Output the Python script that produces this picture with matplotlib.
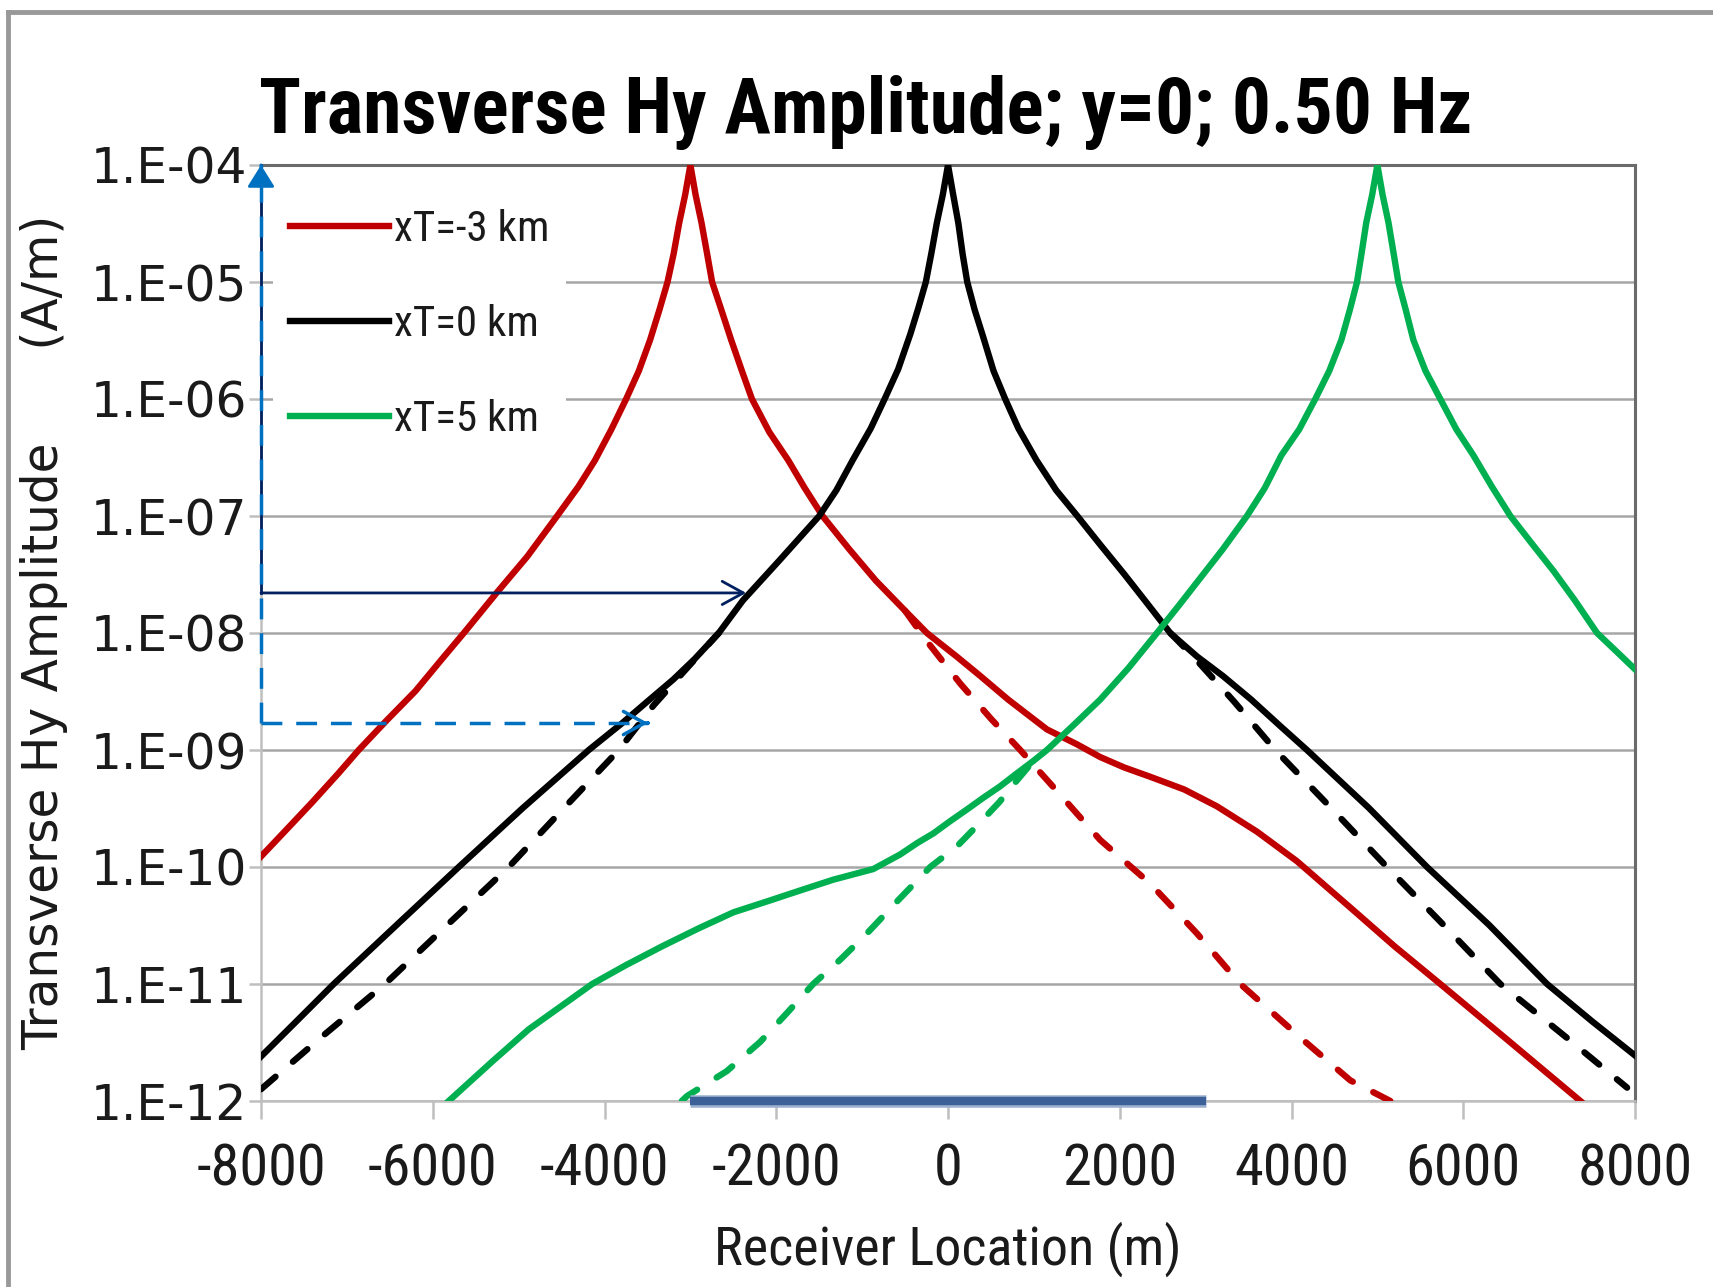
import matplotlib
matplotlib.use("Agg")
import matplotlib.pyplot as plt
from matplotlib import font_manager
from matplotlib.lines import Line2D
from matplotlib.ticker import FixedLocator, NullLocator

# --- fonts: prefer a narrow face, the reference text is condensed -------
names = {f.name for f in font_manager.fontManager.ttflist}
NARROW = 'Liberation Sans'
for cand in ['Liberation Sans Narrow', 'Arial Narrow', 'Roboto Condensed']:
    if cand in names:
        NARROW = cand
        break
is_narrow = NARROW != 'Liberation Sans'

# --- data --------------------------------------------------------------
# xT = -3 km, solid
red_x = [-8000, -7700, -7400, -7100, -6862, -6540, -6200, -5900, -5638, -5257, -4900,
         -4552, -4300, -4110, -3920, -3748, -3600, -3469, -3360, -3266, -3195, -3130,
         -3060, -3000, -2940, -2870, -2805, -2747, -2640, -2525, -2400, -2283, -2080,
         -1861, -1670, -1461, -1150, -840, -500, -246, 100, 375, 700, 1152, 1500, 1773,
         2050, 2356, 2750, 3132, 3600, 4064, 4685, 5200, 5733, 6500, 7364]
red_y = [1.23e-10, 2.1e-10, 3.6e-10, 6.3e-10, 1.0e-9, 1.78e-9, 3.2e-9, 5.9e-9, 1.0e-8,
         2.2e-8, 4.5e-8, 1.0e-7, 1.8e-7, 3.0e-7, 5.5e-7, 1.0e-6, 1.74e-6, 3.2e-6, 5.8e-6,
         1.0e-5, 1.74e-5, 3.2e-5, 5.6e-5, 1.0e-4, 5.6e-5, 3.2e-5, 1.74e-5, 1.0e-5, 5.8e-6,
         3.2e-6, 1.74e-6, 1.0e-6, 5.2e-7, 3.0e-7, 1.74e-7, 1.0e-7, 5.2e-8, 2.8e-8, 1.55e-8,
         1.0e-8, 6.3e-9, 4.3e-9, 2.7e-9, 1.5e-9, 1.12e-9, 8.7e-10, 7.1e-10, 5.9e-10,
         4.6e-10, 3.3e-10, 2.0e-10, 1.12e-10, 4.5e-11, 2.1e-11, 1.0e-11, 3.4e-12, 1.0e-12]
# xT = -3 km, dashed
red_dash_x = [-500, -246, 142, 500, 841, 1300, 1773, 2356, 2900, 3404, 4100, 4685, 5151]
red_dash_y = [1.55e-8, 8.5e-9, 3.7e-9, 1.85e-9, 1.0e-9, 4.2e-10, 1.7e-10, 7.2e-11,
              2.7e-11, 1.0e-11, 3.5e-12, 1.5e-12, 1.0e-12]

# xT = 0 km, solid
blk_x = [-8000, -7600, -7153, -6400, -5697, -4950, -4183, -3793, -3500, -3200, -2950,
         -2669, -2388, -1960, -1500, -1300, -1110, -900, -738, -580, -438, -345, -258,
         -195, -130, -60, 0, 60, 120, 170, 224, 310, 404, 530, 666, 820, 1030, 1260, 1506,
         1780, 2050, 2317, 2588, 2900, 3200, 3530, 3870, 4180, 4900, 5578, 6300, 6976,
         7500, 8000]
blk_y = [2.4e-12, 4.7e-12, 1.0e-11, 3.3e-11, 1.0e-10, 3.2e-10, 1.0e-9, 1.7e-9, 2.6e-9,
         4.0e-9, 6.0e-9, 1.0e-8, 1.9e-8, 4.2e-8, 1.0e-7, 1.66e-7, 3.0e-7, 5.6e-7, 1.0e-6,
         1.8e-6, 3.6e-6, 6.0e-6, 1.0e-5, 1.74e-5, 3.2e-5, 5.6e-5, 1.0e-4, 5.6e-5, 3.2e-5,
         1.74e-5, 1.0e-5, 5.8e-6, 3.5e-6, 1.74e-6, 1.0e-6, 5.6e-7, 3.0e-7, 1.66e-7, 1.0e-7,
         5.6e-8, 3.2e-8, 1.8e-8, 1.0e-8, 6.3e-9, 4.3e-9, 2.7e-9, 1.6e-9, 1.0e-9, 3.2e-10,
         1.0e-10, 3.2e-11, 1.0e-11, 4.8e-12, 2.45e-12]
# xT = 0 km, dashed (two branches)
blk_dash_left_x = [-8000, -7650, -7300, -6556, -5830, -5115, -4470, -3833, -3430, -3030, -2669]
blk_dash_left_y = [1.26e-12, 2.1e-12, 3.5e-12, 1.0e-11, 3.2e-11, 1.0e-10, 3.2e-10, 1.0e-9,
                   2.4e-9, 5.1e-9, 1.0e-8]
blk_dash_right_x = [2588, 2856, 3330, 3811, 4460, 5112, 5770, 6432, 7200, 7908]
blk_dash_right_y = [1.0e-8, 6.3e-9, 2.6e-9, 1.0e-9, 3.2e-10, 1.0e-10, 3.2e-11, 1.0e-11,
                    3.5e-12, 1.3e-12]

# xT = 5 km, solid
grn_x = [-5814, -5300, -4882, -4500, -4144, -3750, -3329, -2900, -2498, -2100, -1722,
         -1334, -871, -557, -360, -169, 20, 220, 410, 608, 800, 997, 1152, 1450, 1773,
         2100, 2433, 2705, 2938, 3200, 3481, 3690, 3882, 4090, 4277, 4440, 4581, 4680,
         4763, 4815, 4870, 4940, 5000, 5060, 5130, 5190, 5244, 5330, 5419, 5560, 5733,
         5920, 6118, 6330, 6549, 6800, 7050, 7300, 7558, 7780, 8000]
grn_y = [1.0e-12, 2.2e-12, 4.1e-12, 6.5e-12, 1.0e-11, 1.45e-11, 2.1e-11, 3.0e-11, 4.1e-11,
         5.1e-11, 6.3e-11, 7.8e-11, 9.6e-11, 1.28e-10, 1.6e-10, 1.94e-10, 2.45e-10, 3.1e-10,
         3.9e-10, 4.9e-10, 6.3e-10, 8.1e-10, 1.0e-9, 1.6e-9, 2.7e-9, 5.0e-9, 1.0e-8, 1.78e-8,
         2.95e-8, 5.2e-8, 1.0e-7, 1.74e-7, 3.3e-7, 5.5e-7, 1.0e-6, 1.74e-6, 3.2e-6, 5.8e-6,
         1.0e-5, 1.74e-5, 3.2e-5, 5.6e-5, 1.0e-4, 5.6e-5, 3.2e-5, 1.74e-5, 1.0e-5, 5.8e-6,
         3.2e-6, 1.74e-6, 1.0e-6, 5.5e-7, 3.3e-7, 1.8e-7, 1.0e-7, 5.8e-8, 3.4e-8, 1.9e-8,
         1.0e-8, 7.0e-9, 4.9e-9]
# xT = 5 km, dashed
grn_dash_x = [-3100, -3041, -2576, -2187, -1880, -1570, -1260, -945, -580, -207, 104, 350,
              600, 803, 997]
grn_dash_y = [1.0e-12, 1.1e-12, 1.8e-12, 3.2e-12, 5.6e-12, 1.0e-11, 1.6e-11, 2.7e-11,
              5.2e-11, 1.0e-10, 1.5e-10, 2.3e-10, 3.6e-10, 5.5e-10, 8.1e-10]

# annotation arrows and the source bar
arrow_start_x = -8000
navy_arrow_y = 2.2e-8
navy_arrow_tip = -2350
blue_arrow_y = 1.7e-9
blue_arrow_tip = -3492
top_y = 1.0e-4
bar_x = [-3000, 3000]
bar_y = [1.0e-12, 1.0e-12]

legend_labels = ['xT=-3 km', 'xT=0 km', 'xT=5 km']
x_ticks = [-8000, -6000, -4000, -2000, 0, 2000, 4000, 6000, 8000]
x_tick_labels = ['-8000', '-6000', '-4000', '-2000', '0', '2000', '4000', '6000', '8000']
y_ticks = [1e-12, 1e-11, 1e-10, 1e-9, 1e-8, 1e-7, 1e-6, 1e-5, 1e-4]
y_tick_labels = ['1.E-12', '1.E-11', '1.E-10', '1.E-09', '1.E-08', '1.E-07', '1.E-06',
                 '1.E-05', '1.E-04']

RED = '#C00000'
GREEN = '#00B050'
NAVY = '#002060'
BLUE = '#0070C0'
TXT = '#1a1a1a'

# font sizes: narrow face if present, else a regular face sized down a bit
xtick_fs = 42 if is_narrow else 38
xlabel_fs = 39 if is_narrow else 36
legend_fs = 31 if is_narrow else 27

# --- figure ------------------------------------------------------------
W, H = 1713, 1287
fig = plt.figure(figsize=(W / 100, H / 100), dpi=100)
ax = fig.add_axes([261 / W, 1 - 1101 / H, (1635 - 261) / W, (1101 - 165) / H])

lw = 4.6
dash = (3.0, 3.6)
ax.plot(red_x, red_y, color=RED, lw=lw, zorder=3, label=legend_labels[0])
ax.plot(blk_x, blk_y, color='black', lw=lw, zorder=3, label=legend_labels[1])
ax.plot(grn_x, grn_y, color=GREEN, lw=lw, zorder=3, label=legend_labels[2])
for xs, ys, c in [(red_dash_x, red_dash_y, RED),
                  (blk_dash_left_x, blk_dash_left_y, 'black'),
                  (blk_dash_right_x, blk_dash_right_y, 'black'),
                  (grn_dash_x, grn_dash_y, GREEN)]:
    ax.plot(xs, ys, color=c, lw=lw, dashes=dash, dash_capstyle='round', zorder=3)

# source bar on the axis
ax.plot(bar_x, bar_y, color='#9AB0CE', lw=9, solid_capstyle='butt', zorder=7, clip_on=False)
ax.plot(bar_x, bar_y, color='#3C6098', lw=6, solid_capstyle='butt', zorder=8, clip_on=False)

# arrows
ax.plot([arrow_start_x, arrow_start_x], [navy_arrow_y, top_y], color=NAVY, lw=2,
        zorder=6, clip_on=False)
ax.annotate('', xy=(navy_arrow_tip, navy_arrow_y), xytext=(arrow_start_x, navy_arrow_y),
            arrowprops=dict(arrowstyle='->,head_length=0.4,head_width=0.22', color=NAVY,
                            lw=2, mutation_scale=38, shrinkA=0, shrinkB=0),
            zorder=6, annotation_clip=False)
ax.plot([arrow_start_x, arrow_start_x], [blue_arrow_y, top_y], color=BLUE, lw=2.5,
        dashes=(6, 4), zorder=6, clip_on=False)
ax.plot([arrow_start_x, blue_arrow_tip], [blue_arrow_y, blue_arrow_y], color=BLUE, lw=2.5,
        dashes=(6, 4), zorder=6)
ax.annotate('', xy=(blue_arrow_tip, blue_arrow_y), xytext=(blue_arrow_tip - 1, blue_arrow_y),
            arrowprops=dict(arrowstyle='->,head_length=0.4,head_width=0.22', color=BLUE,
                            lw=2.5, mutation_scale=38, shrinkA=0, shrinkB=0),
            zorder=6, annotation_clip=False)
ax.annotate('', xy=(arrow_start_x, top_y), xytext=(arrow_start_x, top_y * 0.999),
            arrowprops=dict(arrowstyle='-|>,head_length=0.45,head_width=0.28', color=BLUE,
                            lw=2, mutation_scale=30, shrinkA=0, shrinkB=0),
            zorder=6, annotation_clip=False)

# axes
ax.set_xlim(-8000, 8000)
ax.set_yscale('log')
ax.set_ylim(1e-12, 1e-4)
ax.xaxis.set_major_locator(FixedLocator(x_ticks))
ax.set_xticklabels(x_tick_labels, fontfamily=NARROW, fontsize=xtick_fs, color=TXT)
ax.yaxis.set_major_locator(FixedLocator(y_ticks))
ax.yaxis.set_minor_locator(NullLocator())
ax.set_yticklabels(y_tick_labels, fontfamily='DejaVu Sans', fontsize=35, color=TXT)
ax.tick_params(axis='x', direction='out', length=13, width=1.8, color='#BFBFBF', pad=17)
ax.tick_params(axis='y', direction='out', length=9, width=1.8, color='#BFBFBF', pad=1)
ax.grid(axis='y', color='#A6A6A6', lw=1.8)
ax.set_axisbelow(True)
for side in ['left', 'bottom']:
    ax.spines[side].set_color('#BFBFBF')
    ax.spines[side].set_linewidth(1.8)
for side in ['top', 'right']:
    ax.spines[side].set_color('#6B6B6B')
    ax.spines[side].set_linewidth(2.2)

ax.set_xlabel('Receiver Location (m)', fontfamily=NARROW, fontsize=xlabel_fs, color=TXT,
              labelpad=17)
fig.text(44 / W, 1 - 632 / H, 'Transverse Hy Amplitude      (A/m)', rotation=90,
         ha='center', va='center', fontfamily='DejaVu Sans', fontsize=35, color=TXT)
title = fig.text(259 / W, 1 - 133 / H, 'Transverse Hy Amplitude; y=0; 0.50 Hz', ha='left',
                 va='baseline', fontfamily=NARROW, fontweight='bold', fontsize=58,
                 color='black')
# squeeze the title to the width it has in the reference
renderer = fig.canvas.get_renderer()
tw = title.get_window_extent(renderer).width
if tw > 1213:
    title.set_fontsize(58 * 1213 / tw)

leg = ax.legend(loc='upper left', bbox_to_anchor=(273 / W, 1 - 192 / H),
                bbox_transform=fig.transFigure, borderaxespad=0, frameon=True,
                facecolor='white', edgecolor='none', framealpha=1, fancybox=False,
                prop={'family': NARROW, 'size': legend_fs}, handlelength=2.3,
                handletextpad=0.1, labelspacing=1.25)
for t in leg.get_texts():
    t.set_color(TXT)
leg.set_zorder(2.5)

# chart-area border (top and left edges visible)
fig.add_artist(Line2D([7.5 / W, 7.5 / W], [0, 1 - 11.5 / H], transform=fig.transFigure,
                      color='#999999', lw=3.5))
fig.add_artist(Line2D([7.5 / W, 1], [1 - 11.5 / H, 1 - 11.5 / H], transform=fig.transFigure,
                      color='#999999', lw=3.5))

fig.savefig('out.png', dpi=100)
